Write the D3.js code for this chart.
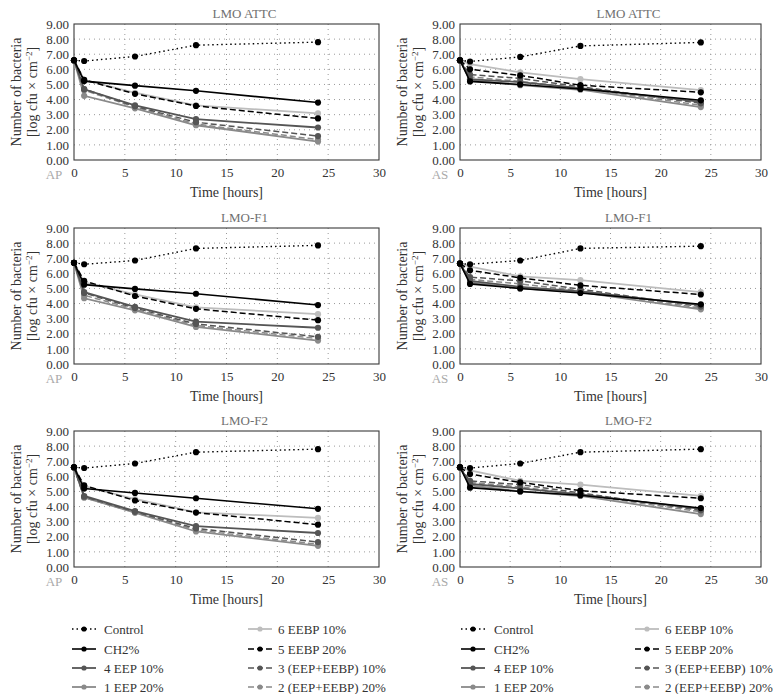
<!DOCTYPE html>
<html><head><meta charset="utf-8">
<script src="https://cdn.jsdelivr.net/npm/d3@7"></script>
<style>
body{margin:0;background:#fff}
svg{display:block}
svg text{font-family:"Liberation Serif","Liberation Sans Narrow","DejaVu Sans Condensed","Noto Sans",sans-serif !important;font-weight:normal}
</style>
</head><body>
<svg id="c" width="776" height="694"></svg>
<script>
// ---------- DATA ----------
const times = [0, 1, 6, 12, 24];
const seriesNames = ["Control", "CH2%", "4 EEP 10%", "1 EEP 20%", "6 EEBP 10%", "5 EEBP 20%", "3 (EEP+EEBP) 10%", "2 (EEP+EEBP) 20%"];
const xTicks = [0, 5, 10, 15, 20, 25, 30];
const yTicks = [0, 1, 2, 3, 4, 5, 6, 7, 8, 9];
const panelTitles = ["LMO ATTC", "LMO-F1", "LMO-F2"];
const sideLabels = ["AP", "AS"];

// values per series (order of seriesNames), at times
const apATTC = [
  [6.6, 6.55, 6.85, 7.6, 7.8],
  [6.6, 5.22, 4.92, 4.58, 3.8],
  [6.6, 4.68, 3.62, 2.7, 2.15],
  [6.6, 4.25, 3.42, 2.3, 1.22],
  [6.6, 5.3, 4.45, 3.62, 3.08],
  [6.6, 5.3, 4.38, 3.58, 2.75],
  [6.6, 4.7, 3.55, 2.5, 1.58],
  [6.6, 4.62, 3.5, 2.38, 1.35]
];
const asATTC = [
  [6.6, 6.52, 6.82, 7.55, 7.78],
  [6.6, 5.2, 5.0, 4.7, 3.95],
  [6.6, 5.35, 5.15, 4.75, 3.85],
  [6.6, 5.3, 4.95, 4.65, 3.5],
  [6.6, 6.35, 5.8, 5.35, 4.62],
  [6.6, 6.0, 5.6, 4.95, 4.48],
  [6.6, 5.65, 5.4, 4.85, 3.75],
  [6.6, 5.5, 5.2, 4.75, 3.62]
];
const apF1 = [
  [6.7, 6.6, 6.85, 7.65, 7.85],
  [6.7, 5.25, 4.97, 4.65, 3.9],
  [6.7, 4.75, 3.78, 2.8, 2.4],
  [6.7, 4.35, 3.55, 2.45, 1.55],
  [6.7, 5.4, 4.6, 3.75, 3.3],
  [6.7, 5.5, 4.5, 3.65, 2.9],
  [6.7, 4.7, 3.7, 2.65, 1.8],
  [6.7, 4.55, 3.62, 2.55, 1.68]
];
const asF1 = [
  [6.65, 6.6, 6.85, 7.65, 7.8],
  [6.65, 5.3, 5.0, 4.7, 3.95],
  [6.65, 5.5, 5.1, 4.8, 3.9],
  [6.65, 5.4, 5.0, 4.75, 3.62],
  [6.65, 6.45, 5.8, 5.55, 4.75],
  [6.65, 6.2, 5.7, 5.2, 4.6],
  [6.65, 5.75, 5.5, 4.95, 3.8],
  [6.65, 5.6, 5.3, 4.85, 3.7]
];
const apF2 = [
  [6.6, 6.55, 6.85, 7.6, 7.8],
  [6.6, 5.2, 4.9, 4.55, 3.85],
  [6.6, 4.7, 3.7, 2.7, 2.25],
  [6.6, 4.6, 3.6, 2.35, 1.4],
  [6.6, 5.35, 4.5, 3.62, 3.25],
  [6.6, 5.4, 4.4, 3.6, 2.8],
  [6.6, 4.65, 3.65, 2.55, 1.65],
  [6.6, 4.6, 3.6, 2.45, 1.5]
];
const asF2 = [
  [6.6, 6.55, 6.85, 7.6, 7.8],
  [6.6, 5.25, 5.0, 4.75, 3.9],
  [6.6, 5.5, 5.2, 4.8, 3.85],
  [6.6, 5.4, 5.0, 4.7, 3.5],
  [6.6, 6.4, 5.7, 5.45, 4.7],
  [6.6, 6.15, 5.6, 5.05, 4.55],
  [6.6, 5.7, 5.45, 4.9, 3.75],
  [6.6, 5.6, 5.3, 4.8, 3.65]
];

// ---------- STYLES ----------
const styles = [
  {color: "#000", dash: "1.5,3", lw: 1.4, dot: "#000"},
  {color: "#000", dash: null, lw: 1.6, dot: "#000"},
  {color: "#555", dash: null, lw: 1.8, dot: "#555"},
  {color: "#8a8a8a", dash: null, lw: 1.8, dot: "#8a8a8a"},
  {color: "#bdbdbd", dash: null, lw: 1.8, dot: "#bdbdbd"},
  {color: "#000", dash: "6,3", lw: 1.5, dot: "#000"},
  {color: "#555", dash: "6,3", lw: 1.5, dot: "#555"},
  {color: "#8a8a8a", dash: "6,3", lw: 1.5, dot: "#8a8a8a"}
];

const svg = d3.select("#c");
const TXT = "#333";

const cols = [{x0: 74, x1: 379}, {x0: 460, x1: 761}];
const rows = [{y0: 24, y1: 160}, {y0: 228, y1: 364}, {y0: 431, y1: 567}];
const panelData = [[apATTC, asATTC], [apF1, asF1], [apF2, asF2]];

// draw order: light first, dark/control last
const drawOrder = [4, 3, 7, 2, 6, 5, 1, 0];

rows.forEach((r, ri) => {
  cols.forEach((c, ci) => {
    const data = panelData[ri][ci];
    const x = d3.scaleLinear().domain([0, 30]).range([c.x0, c.x1]);
    const y = d3.scaleLinear().domain([0, 9]).range([r.y1, r.y0]);
    const g = svg.append("g");

    // grid
    g.append("g").selectAll("line").data(xTicks.slice(1, -1)).join("line")
      .attr("x1", d => x(d)).attr("x2", d => x(d)).attr("y1", r.y0).attr("y2", r.y1)
      .attr("stroke", "#9a9a9a").attr("stroke-width", 1).attr("stroke-dasharray", "1,4");
    g.append("g").selectAll("line").data(yTicks.slice(1, -1)).join("line")
      .attr("y1", d => y(d)).attr("y2", d => y(d)).attr("x1", c.x0).attr("x2", c.x1)
      .attr("stroke", "#9a9a9a").attr("stroke-width", 1).attr("stroke-dasharray", "1,4");

    // axes (text only, ticks hidden)
    const xa = g.append("g").attr("transform", `translate(0,${r.y1})`)
      .call(d3.axisBottom(x).tickValues(xTicks).tickSize(0).tickPadding(8).tickFormat(d3.format("d")));
    const ya = g.append("g").attr("transform", `translate(${c.x0},0)`)
      .call(d3.axisLeft(y).tickValues(yTicks).tickSize(0).tickPadding(5).tickFormat(d3.format(".2f")));
    [xa, ya].forEach(a => {
      a.select(".domain").remove();
      a.attr("font-family", null).attr("font-size", null);
      a.selectAll("text").attr("font-size", 13).attr("fill", TXT);
    });

    // frame
    g.append("rect").attr("x", c.x0).attr("y", r.y0).attr("width", c.x1 - c.x0).attr("height", r.y1 - r.y0)
      .attr("fill", "none").attr("stroke", "#3a3a3a").attr("stroke-width", 1.1);

    // series
    const line = d3.line().x((d, i) => x(times[i])).y(d => y(d));
    drawOrder.forEach(si => {
      const s = styles[si];
      g.append("path").datum(data[si]).attr("d", line).attr("fill", "none")
        .attr("stroke", s.color).attr("stroke-width", s.lw)
        .attr("stroke-dasharray", s.dash);
      g.append("g").selectAll("circle").data(data[si]).join("circle")
        .attr("cx", (d, i) => x(times[i])).attr("cy", d => y(d)).attr("r", 3.1)
        .attr("fill", s.dot);
    });

    // title
    const cx = (c.x0 + c.x1) / 2;
    g.append("text").attr("x", cx + 18).attr("y", r.y0 - 6).attr("text-anchor", "middle")
      .attr("font-size", 13).attr("fill", "#707070").text(panelTitles[ri]);
    // x label
    g.append("text").attr("x", cx).attr("y", r.y1 + 37).attr("text-anchor", "middle")
      .attr("font-size", 14).attr("fill", TXT).text("Time [hours]");
    // side label
    g.append("text").attr("x", c.x0 - 20).attr("y", r.y1 + 19).attr("text-anchor", "middle")
      .attr("font-size", 13).attr("fill", "#aaaaaa").text(sideLabels[ci]);
    // y label
    const cy = (r.y0 + r.y1) / 2;
    const yl = g.append("text").attr("transform", `translate(${c.x0 - 53},${cy}) rotate(-90)`)
      .attr("text-anchor", "middle").attr("font-size", 14).attr("fill", TXT);
    yl.append("tspan").attr("x", 0).attr("y", 0).text("Number of bacteria");
    yl.append("tspan").attr("x", 0).attr("dy", 16).text("[log cfu × cm");
    yl.append("tspan").attr("font-size", 9).attr("dy", -5).text("−2");
    yl.append("tspan").attr("dy", 5).text("]");
  });
});

// ---------- LEGEND ----------
const legendCols = [
  {lx: 72, tx: 104, items: [0, 1, 2, 3]},
  {lx: 248, tx: 278, items: [4, 5, 6, 7]},
  {lx: 461, tx: 494, items: [0, 1, 2, 3]},
  {lx: 635, tx: 665, items: [4, 5, 6, 7]}
];
const legendY = [629, 649, 668, 687];
legendCols.forEach(col => {
  col.items.forEach((si, k) => {
    const s = styles[si];
    const yy = legendY[k];
    svg.append("line").attr("x1", col.lx).attr("x2", col.lx + 24).attr("y1", yy).attr("y2", yy)
      .attr("stroke", s.color).attr("stroke-width", s.lw).attr("stroke-dasharray", s.dash);
    svg.append("circle").attr("cx", col.lx + 12).attr("cy", yy).attr("r", 2.6).attr("fill", s.dot);
    svg.append("text").attr("x", col.tx).attr("y", yy + 4.5)
      .attr("font-size", 13).attr("fill", TXT).text(seriesNames[si]);
  });
});
</script>
</body></html>
